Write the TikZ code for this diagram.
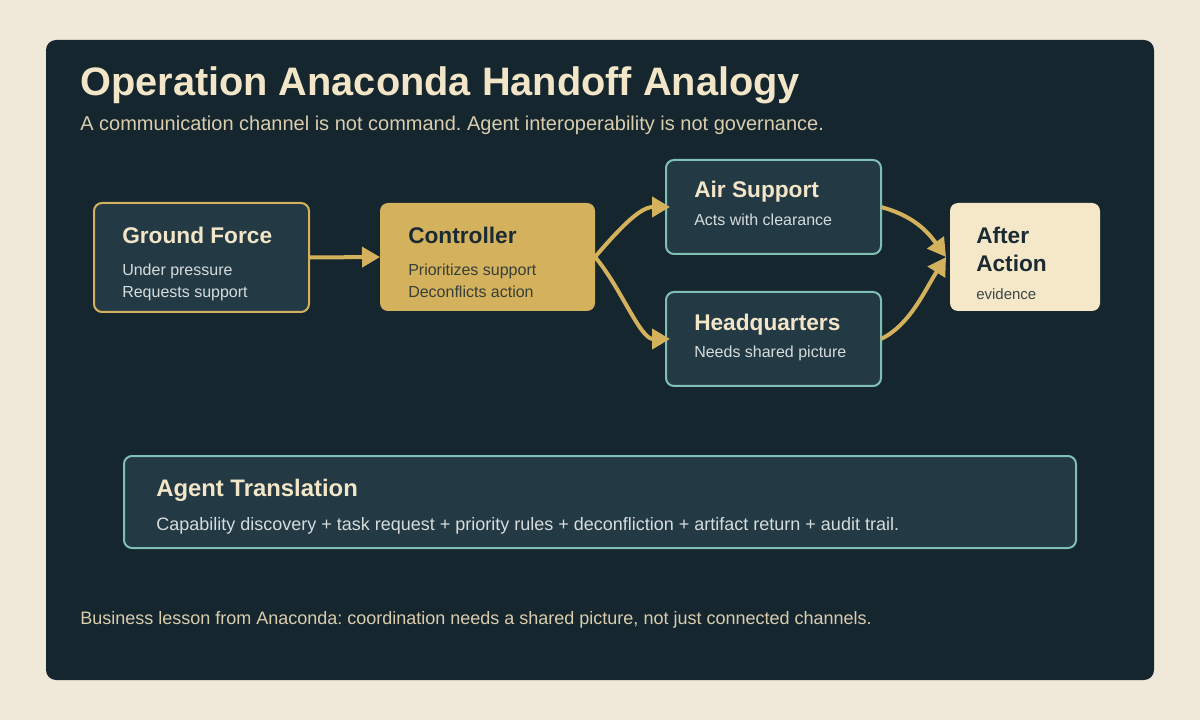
\documentclass[tikz,border=0pt]{standalone}
\usepackage{fontspec}
\setmainfont{Liberation Sans}
\frenchspacing
\usetikzlibrary{arrows.meta}
\definecolor{bgcream}{HTML}{F0E8D8}
\definecolor{panel}{HTML}{15262F}
\definecolor{boxfill}{HTML}{233A45}
\definecolor{gold}{HTML}{D4B15C}
\definecolor{tealb}{HTML}{7FBFB5}
\definecolor{titletext}{HTML}{F3E6C8}
\definecolor{subtext}{HTML}{D9CDAE}
\definecolor{bodytext}{HTML}{D6DCDC}
\definecolor{aafill}{HTML}{F5E8C8}
\definecolor{darktext}{HTML}{1B2B33}
\tikzset{
  box/.style={rectangle, rounded corners=6pt, inner sep=0pt, outer sep=0pt, anchor=north west, line width=1.5pt},
  darkbox/.style={box, fill=boxfill},
  goldline/.style={draw=gold, line width=3pt},
  flow/.style={goldline, -{Triangle[length=13.5pt,width=15pt]}},
  ttl/.style={anchor=base west, inner sep=0pt, font=\fontsize{17pt}{20pt}\selectfont\bfseries, text=titletext},
  body/.style={anchor=base west, inner sep=0pt, font=\fontsize{12pt}{14pt}\selectfont, text=bodytext},
}
\begin{document}
\begin{tikzpicture}[x=0.75pt,y=-0.75pt]
\useasboundingbox (0,0) rectangle (1200,720);
\fill[bgcream] (0,0) rectangle (1200,720);
\fill[panel, rounded corners=7.5pt] (46,40) rectangle (1154,680);
\node[anchor=base west, inner sep=0pt, font=\fontsize{29.8pt}{34pt}\selectfont\bfseries, text=titletext] (title) at (80,96) {Operation Anaconda Handoff Analogy};
\node[anchor=base west, inner sep=0pt, font=\fontsize{15pt}{18pt}\selectfont, text=subtext] (subtitle) at (80,131) {A communication channel is not command. Agent interoperability is not governance.};
% boxes
\node[darkbox, draw=gold, minimum width=161.25pt, minimum height=81.75pt] (gf) at (94,203) {};
\node[box, fill=gold, minimum width=161.25pt, minimum height=81pt] (ctl) at (380,203) {};
\node[darkbox, draw=tealb, minimum width=161.25pt, minimum height=70.5pt] (air) at (666,160) {};
\node[darkbox, draw=tealb, minimum width=161.25pt, minimum height=70.5pt] (hq) at (666,292) {};
\node[box, fill=aafill, minimum width=112.5pt, minimum height=81pt] (aa) at (950,203) {};
\node[darkbox, draw=tealb, minimum width=714pt, minimum height=69pt] (agent) at (124,456) {};
% texts
\node[ttl] (gft) at (122,244) {Ground Force};
\node[body] (gfb1) at (122,276) {Under pressure};
\node[body] (gfb2) at (122,298) {Requests support};
\node[ttl, text=darktext] (ctlt) at (408,244) {Controller};
\node[body, text=darktext!85!gold] (ctlb1) at (408,276) {Prioritizes support};
\node[body, text=darktext!85!gold] (ctlb2) at (408,298) {Deconflicts action};
\node[ttl] (airt) at (694,198) {Air Support};
\node[body] (airb) at (694,226) {Acts with clearance};
\node[ttl] (hqt) at (694,330) {Headquarters};
\node[body] (hqb) at (694,358) {Needs shared picture};
\node[ttl, text=darktext] (aat1) at (976,244) {After};
\node[ttl, text=darktext] (aat2) at (976,272) {Action};
\node[body, text=darktext!85!aafill, font=\fontsize{11.25pt}{13pt}\selectfont] (aab) at (976,300) {evidence};
\node[ttl, font=\fontsize{17.9pt}{21pt}\selectfont\bfseries] (agt) at (156,496) {Agent Translation};
\node[body, font=\fontsize{13.5pt}{16pt}\selectfont] (agb) at (156,530) {Capability discovery + task request + priority rules + deconfliction + artifact return + audit trail.};
\node[anchor=base west, inner sep=0pt, font=\fontsize{13.5pt}{16pt}\selectfont, text=subtext] (lesson) at (80,624) {Business lesson from Anaconda: coordination needs a shared picture, not just connected channels.};
% connectors
\draw[flow] (gf.east) -- (ctl.west);
\draw[flow] (ctl.east) .. controls (620,228) and (640,207) .. ([xshift=3pt]air.west);
\draw[flow] (ctl.east) .. controls (620,286) and (640,339) .. ([xshift=3pt]hq.west);
\draw[flow] (air.east) .. controls (910,215) and (925,228) .. ([xshift=-3pt]aa.west);
\draw[flow] (hq.east) .. controls (910,325) and (925,290) .. ([xshift=-3pt]aa.west);
\end{tikzpicture}
\end{document}
